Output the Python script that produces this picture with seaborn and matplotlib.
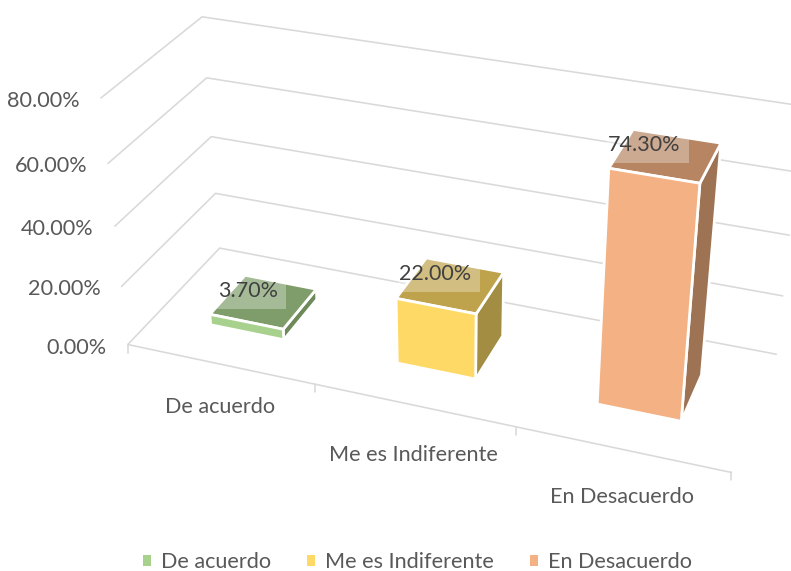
import numpy as np
import pandas as pd
import matplotlib
matplotlib.use("Agg")
import matplotlib.pyplot as plt
from matplotlib.patches import Patch, Rectangle
import seaborn as sns

categories = ["De acuerdo", "Me es Indiferente", "En Desacuerdo"]
values = [3.7, 22.0, 74.3]
value_labels = ["3.70%", "22.00%", "74.30%"]
axis_ticks = [0, 20, 40, 60, 80]
tick_labels = ["0.00%", "20.00%", "40.00%", "60.00%", "80.00%"]

front_colors = ["#A9D18E", "#FFD966", "#F4B183"]
top_colors = ["#7F9D6A", "#BFA34C", "#B78562"]
side_colors = ["#6E8A5B", "#A38D42", "#9E7353"]
TEXT = "#595959"
FS = 15.6

sns.set_theme(style="white", rc={"axes.facecolor": "white", "figure.facecolor": "white"})
plt.rcParams["font.family"] = ["Lato", "DejaVu Sans"]

# Camera calibration: the chart box (u along categories, d into depth, v value) seen on the canvas.
box = np.array([
    (0, 0, 0, 128, 344), (1/3, 0, 0, 315, 384), (2/3, 0, 0, 516, 428), (1, 0, 0, 731, 472),
    (0, 0, 20, 122, 287), (0, 0, 40, 114, 226), (0, 0, 60, 108, 163), (0, 0, 80, 101, 98),
    (0, 1, 0, 219, 248), (0, 1, 20, 216, 193), (0, 1, 40, 211, 137), (0, 1, 60, 207, 78), (0, 1, 80, 202, 17),
    (1, 1, 0, 776, 354), (1, 1, 20, 783, 296), (1, 1, 40, 790, 235.5), (1, 1, 60, 796, 171.5), (1, 1, 80, 803, 106),
], dtype=float)
rows, rhs = [], []
for u, d, v, px, py in box:
    w = v / 80
    rows.append([u, d, w, 1, 0, 0, 0, 0, -px*u, -px*d, -px*w]); rhs.append(px)
    rows.append([0, 0, 0, 0, u, d, w, 1, -py*u, -py*d, -py*w]); rhs.append(py)
P = np.append(np.linalg.lstsq(np.array(rows), np.array(rhs), rcond=None)[0], 1.0).reshape(3, 4)


def project(u, d, v):
    q = P @ np.array([u, d, v / 80, 1.0])
    return q[0] / q[2], q[1] / q[2]


fig, ax = plt.subplots(figsize=(7.91, 5.71), dpi=100)
fig.subplots_adjust(0, 0, 1, 1)

# Wall gridlines and floor edge
grid = []
for t in axis_ticks:
    for u, d in [(0, 0), (0, 1), (1, 1)]:
        x, y = project(u, d, t)
        grid.append({"line": f"w{t}", "x": x, "y": y})
for u in [0, 1]:
    x, y = project(u, 0, 0)
    grid.append({"line": "floor", "x": x, "y": y})
for u in [0, 1/3, 2/3, 1]:
    x, y = project(u, 0, 0)
    grid.append({"line": f"t{u}", "x": x, "y": y})
    grid.append({"line": f"t{u}", "x": x, "y": y + 8})
sns.lineplot(data=pd.DataFrame(grid), x="x", y="y", units="line", estimator=None, sort=False,
             color="#D9D9D9", lw=1.15, ax=ax, legend=False, zorder=1)
ax.set_xlim(0, 791)
ax.set_ylim(571, 0)
ax.axis("off")

# Bars
bar_w = 0.4
d0, d1 = 0.3, 0.7
for i, val in enumerate(values):
    uc = (i + 0.5) / 3
    u0, u1 = uc - bar_w / 6, uc + bar_w / 6
    faces = [
        ([(u1, d0, 0), (u1, d1, 0), (u1, d1, val), (u1, d0, val)], side_colors[i]),
        ([(u0, d0, val), (u1, d0, val), (u1, d1, val), (u0, d1, val)], top_colors[i]),
        ([(u0, d0, 0), (u1, d0, 0), (u1, d0, val), (u0, d0, val)], front_colors[i]),
    ]
    for pts, c in faces:
        ax.fill(*zip(*[project(*p) for p in pts]), facecolor=c, edgecolor="white", lw=2.0, zorder=3 + i,
                joinstyle="miter")

# Data labels with translucent box, placed over the bar top
fig.canvas.draw()
renderer = fig.canvas.get_renderer()
label_shift = [-16, -15, -21]
for i, val in enumerate(values):
    uc = (i + 0.5) / 3
    x, y = project(uc, 0.5, val)
    tx, ty = x + label_shift[i], y - 11
    t = ax.text(tx, ty, value_labels[i], ha="center", va="center", fontsize=15.5, color="#404040", zorder=10)
    ext = t.get_window_extent(renderer)
    ax.add_patch(Rectangle((ext.x0 - 1, ty - 14), ext.width + 9, 32, facecolor="white", alpha=0.3,
                           edgecolor="none", zorder=9))

# Value axis labels
for t, lab in zip(axis_ticks, tick_labels):
    x, y = project(0, 0, t)
    ax.text(x - 21, y + 3, lab, ha="right", va="center", fontsize=FS, color=TEXT)

# Category labels
label_drop = [43, 50, 48]
for i, lab in enumerate(categories):
    x, y = project((i + 0.5) / 3, 0, 0)
    ax.text(x, y + label_drop[i], lab, ha="center", va="center", fontsize=FS, color=TEXT)

handles = [Patch(facecolor=c, edgecolor="none", label=l) for c, l in zip(front_colors, categories)]
ax.legend(handles=handles, loc="center", bbox_to_anchor=(417.5 / 791, 1 - 562.5 / 571), ncol=3, frameon=False,
          fontsize=FS, labelcolor=TEXT, handlelength=0.37, handleheight=0.37, handletextpad=0.46, columnspacing=1.65,
          borderpad=0, borderaxespad=0)

fig.savefig("out.png", dpi=100)
